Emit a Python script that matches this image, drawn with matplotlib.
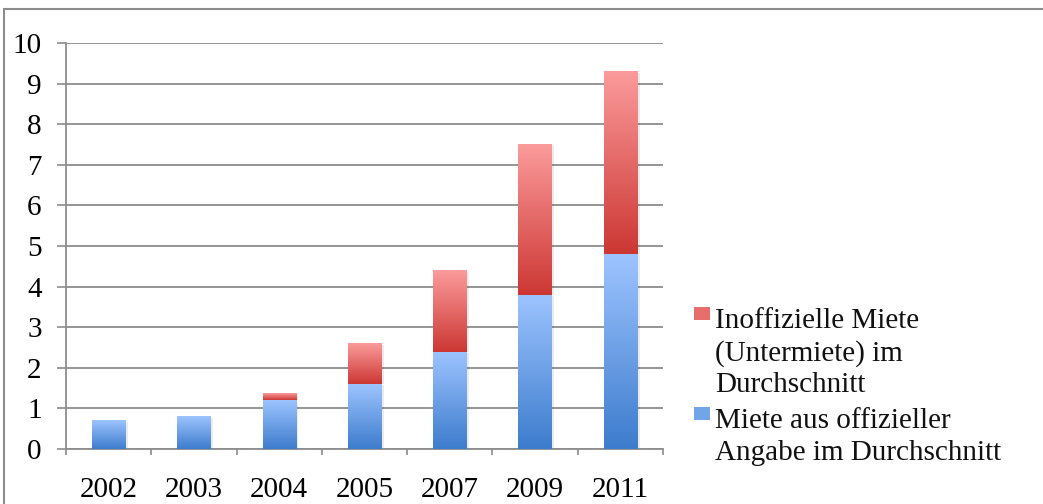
import matplotlib
matplotlib.use('Agg')
import matplotlib.pyplot as plt
from matplotlib.colors import LinearSegmentedColormap
from matplotlib.patches import Rectangle
import numpy as np

years = ['2002', '2003', '2004', '2005', '2007', '2009', '2011']
miete_offiziell = [0.7, 0.8, 1.2, 1.6, 2.4, 3.8, 4.8]
miete_inoffiziell = [0.0, 0.0, 0.17, 1.0, 2.0, 3.7, 4.5]
label_inoff = 'Inoffizielle Miete\n(Untermiete) im\nDurchschnitt'
label_off = 'Miete aus offizieller\nAngabe im Durchschnitt'

plt.rcParams['font.family'] = ['Liberation Serif', 'DejaVu Serif']

blue_cmap = LinearSegmentedColormap.from_list('blau', ['#3D7CCD', '#9DC4FF'])
red_cmap = LinearSegmentedColormap.from_list('rot', ['#CC3733', '#FB9B9B'])
grad = np.linspace(0, 1, 256).reshape(-1, 1)

fig = plt.figure(figsize=(10.43, 5.04), dpi=100)
ax = fig.add_axes([66/1043, 1-449/504, (663-66)/1043, (449-43)/504])

x = np.arange(len(years))
width = 0.39
b1 = ax.bar(x, miete_offiziell, width, color='none', zorder=3)
b2 = ax.bar(x, miete_inoffiziell, width, bottom=miete_offiziell, color='none', zorder=3)

def gradient_fill(bars, cmap):
    for p in bars:
        h = p.get_height()
        if h <= 0:
            continue
        x0, y0 = p.get_x(), p.get_y()
        w = p.get_width()
        # soft shadow
        ax.add_patch(Rectangle((x0 + 0.02, y0), w + 0.01, h - 0.03, color='#000000',
                               alpha=0.08, lw=0, zorder=2.5))
        ax.imshow(grad, cmap=cmap, extent=[x0, x0 + w, y0, y0 + h], origin='lower',
                  aspect='auto', zorder=3, interpolation='bicubic')

gradient_fill(b1, blue_cmap)
gradient_fill(b2, red_cmap)

ax.set_xlim(-0.5, len(years) - 0.5)
ax.set_ylim(0, 10)
ax.set_yticks(range(0, 11))
ax.yaxis.grid(True, color='#8c8c8c', lw=1.3, zorder=0)
ax.set_axisbelow(True)

ax.set_xticks(np.arange(-0.5, len(years)), labels=[])
ax.set_xticks(x, labels=years, minor=True)
ax.tick_params(axis='x', which='major', length=4.5, width=1.2, color='#8c8c8c')
ax.tick_params(axis='x', which='minor', length=0, pad=20, labelsize=21)
ax.tick_params(axis='y', length=6.5, width=1.2, color='#8c8c8c', pad=11, labelsize=21)

for s in ['top', 'right']:
    ax.spines[s].set_visible(False)
for s in ['left', 'bottom']:
    ax.spines[s].set_color('#8c8c8c')
    ax.spines[s].set_linewidth(1.3)

# legend drawn by hand so the marker sits at the first text line
entries = [(label_inoff, red_cmap, 322), (label_off, blue_cmap, 422)]
for text, cmap, ypix in entries:
    fig.text(715/1043, 1 - (ypix - 14)/504, text, fontsize=21, va='top', ha='left',
             linespacing=1.28, color='#111111')
    fig.patches.append(Rectangle((694/1043, 1 - (ypix - 2)/504), 16/1043, 13/504,
                                 transform=fig.transFigure, facecolor=cmap(0.55),
                                 edgecolor='none'))

fig.patches.append(Rectangle((4/1043, -0.05), 1.2, 1 - 9/504 + 0.05,
                             transform=fig.transFigure, facecolor='none',
                             edgecolor='#8c8c8c', lw=1.5))

fig.savefig('out.png', dpi=100)
